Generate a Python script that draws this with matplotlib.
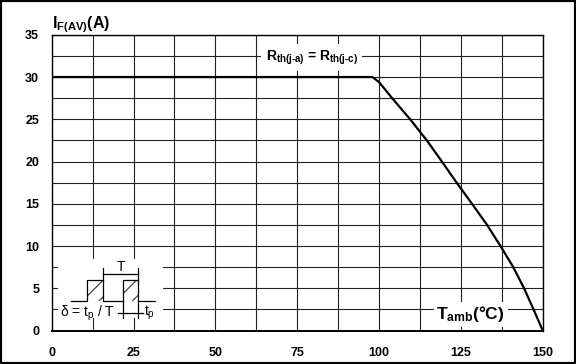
import matplotlib
matplotlib.use("Agg")
import matplotlib.pyplot as plt
from matplotlib.patches import Rectangle
from matplotlib.ticker import MultipleLocator

plt.rcParams["font.family"] = ["Liberation Sans", "DejaVu Sans"]
plt.rcParams["mathtext.fontset"] = "custom"
plt.rcParams["mathtext.rm"] = "Liberation Sans"
plt.rcParams["mathtext.bf"] = "Liberation Sans:bold"
plt.rcParams["mathtext.it"] = "Liberation Sans:italic"
plt.rcParams["hatch.linewidth"] = 0.9

# derating curve: average forward current vs ambient temperature
t_amb = [0, 98, 100, 104, 109.5, 114.6, 119.2, 123.7, 128.4, 133, 137.1, 141, 144.3, 147.2, 150]
i_fav = [30, 30, 29.4, 27.5, 25, 22.5, 20, 17.5, 15, 12.5, 10, 7.5, 5, 2.5, 0]

x_ticks = [0, 25, 50, 75, 100, 125, 150]
y_ticks = [0, 5, 10, 15, 20, 25, 30, 35]

fig = plt.figure(figsize=(5.76, 3.64), dpi=100)
ax = fig.add_axes([0.0898, 0.092, 0.8524, 0.8124])

ax.plot(t_amb, i_fav, color="black", lw=1.6, zorder=4, solid_joinstyle="round")

ax.set_xlim(0, 150)
ax.set_ylim(0, 35)
ax.set_xticks(x_ticks)
ax.set_yticks(y_ticks)
ax.xaxis.set_minor_locator(MultipleLocator(12.5))
ax.yaxis.set_minor_locator(MultipleLocator(2.5))
ax.grid(which="both", color="#222222", lw=0.8)
ax.set_axisbelow(True)
ax.tick_params(which="both", length=0)
ax.tick_params(axis="x", pad=12)
ax.tick_params(axis="y", pad=9)
for lab in ax.get_xticklabels() + ax.get_yticklabels():
    lab.set_fontweight("bold")
    lab.set_fontsize(9)
for sp in ax.spines.values():
    sp.set_linewidth(1.0)
ax.spines["bottom"].set_linewidth(1.4)

# axis captions
fig.text(0.0898, 0.922, r"I$_\mathbf{F(AV)}$(A)", fontsize=11.5, fontweight="bold",
         ha="left", va="baseline")
ax.text(79.4, 32.3, r"R$_\mathbf{th(j‐a)}$ = R$_\mathbf{th(j‐c)}$", fontsize=10,
        fontweight="bold", ha="center", va="center", zorder=5,
        bbox=dict(facecolor="white", edgecolor="none", pad=3))
ax.text(128, 1.9, r"T$_\mathbf{amb}$(°C)", fontsize=12.5, fontweight="bold",
        ha="center", va="center", zorder=5,
        bbox=dict(facecolor="white", edgecolor="none", pad=2))

# duty-cycle sketch in the lower left corner
ax.add_patch(Rectangle((1.9, 1.5), 32.1, 6.95, facecolor="white", edgecolor="none", zorder=3))
base, top = 3.53, 5.98
for x0, x1 in [(10.7, 15.8), (21.9, 26.5)]:
    ax.add_patch(Rectangle((x0, base), x1 - x0, top - base, fill=False, hatch="//",
                           edgecolor="#444444", lw=0, zorder=3.5))
wave_x = [5.9, 10.7, 10.7, 15.8]
wave_y = [base, base, top, top]
ax.plot(wave_x, wave_y, color="black", lw=0.9, zorder=4)
ax.plot([15.8, 15.8, 21.9], [7.4, base, base], color="black", lw=0.9, zorder=4)
ax.plot([21.9, 21.9, 26.5], [1.44, top, top], color="black", lw=0.9, zorder=4)
ax.plot([26.5, 26.5], [7.4, 1.44], color="black", lw=0.9, zorder=4)
ax.plot([26.5, 31.6], [base, base], color="black", lw=0.9, zorder=4)
ax.plot([15.8, 26.5], [6.69, 6.69], color="black", lw=0.9, zorder=4)
ax.plot([20.3, 28.0], [2.04, 2.04], color="black", lw=0.9, zorder=4)
ax.text(21.2, 7.55, "T", fontsize=10, ha="center", va="center", zorder=5)
ax.text(10.9, 2.04, r"δ = t$_\mathregular{p}$ / T", fontsize=10, ha="center",
        va="center", zorder=5)
ax.text(28.3, 2.04, r"t$_\mathregular{p}$", fontsize=10, ha="left", va="center", zorder=5)

# frame around the whole figure
fig.patches.append(Rectangle((0, 0), 1, 1, transform=fig.transFigure, fill=False,
                             lw=3, edgecolor="black"))

fig.savefig("out.png", dpi=100)
